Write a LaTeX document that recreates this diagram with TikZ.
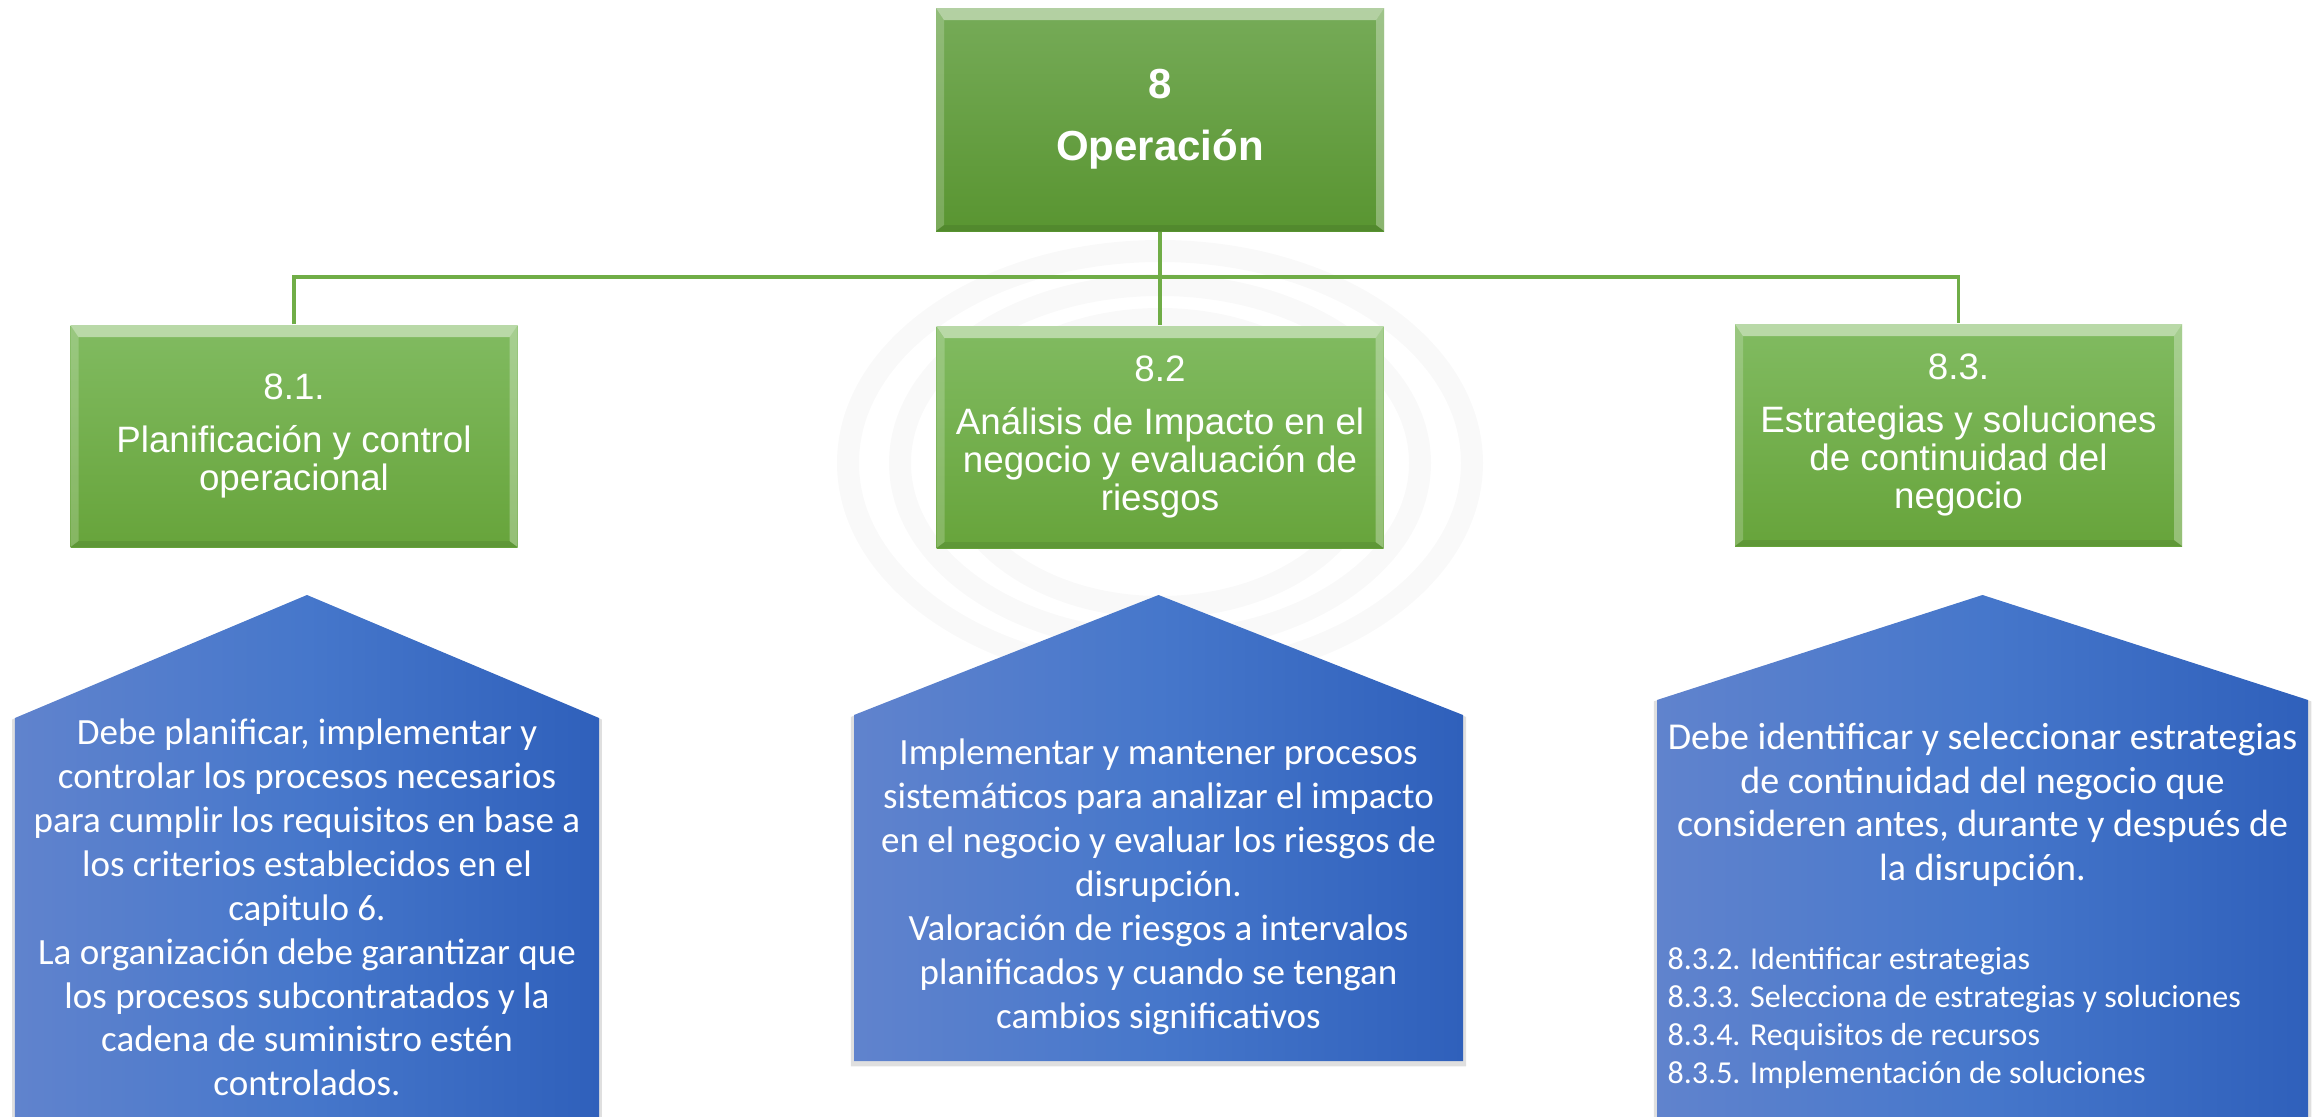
\documentclass[tikz,border=0pt]{standalone}
\usepackage{fontspec}
\setmainfont{Carlito}
\newfontfamily\arialfont{Liberation Sans}
\usepackage{tikz}
\usetikzlibrary{shadows}

\definecolor{linkgreen}{RGB}{112,173,71}
\definecolor{topgreenA}{RGB}{118,171,88}
\definecolor{topgreenB}{RGB}{89,149,49}
\definecolor{subgreenA}{RGB}{129,187,97}
\definecolor{subgreenB}{RGB}{103,164,59}
\definecolor{blueA}{RGB}{96,131,205}
\definecolor{blueB}{RGB}{70,119,203}
\definecolor{blueC}{RGB}{47,96,187}

\begin{document}
\begin{tikzpicture}
	[bevel/.style={path picture={
			\fill[white, opacity=0.45] (path picture bounding box.north west) -- (path picture bounding box.north east)
				-- ([shift={(-0.08,-0.12)}]path picture bounding box.north east) -- ([shift={(0.08,-0.12)}]path picture bounding box.north west) -- cycle;
			\fill[white, opacity=0.2] (path picture bounding box.north west) -- ([shift={(0.08,-0.12)}]path picture bounding box.north west)
				-- ([shift={(0.08,0.06)}]path picture bounding box.south west) -- (path picture bounding box.south west) -- cycle;
			\fill[white, opacity=0.3] (path picture bounding box.north east) -- ([shift={(-0.08,-0.12)}]path picture bounding box.north east)
				-- ([shift={(-0.08,0.06)}]path picture bounding box.south east) -- (path picture bounding box.south east) -- cycle;
			\fill[black, opacity=0.08] (path picture bounding box.south west) -- ([shift={(0.08,0.06)}]path picture bounding box.south west)
				-- ([shift={(-0.08,0.06)}]path picture bounding box.south east) -- (path picture bounding box.south east) -- cycle;
		}},
		top node/.style={rectangle, inner sep=0pt, minimum width=4.48cm, minimum height=2.23cm, top color=topgreenA, bottom color=topgreenB,
			text=white, align=center, font=\arialfont\bfseries\fontsize{11.95pt}{17.6pt}\selectfont, bevel},
		sub node/.style={rectangle, inner sep=0pt, minimum width=4.47cm, minimum height=2.22cm, top color=subgreenA, bottom color=subgreenB,
			text=white, align=center, font=\arialfont\fontsize{10.45pt}{10.8pt}\selectfont, bevel},
		house/.style={left color=blueA, right color=blueC, middle color=blueB,
			drop shadow={shadow xshift=0cm, shadow yshift=-0.03cm, shadow scale=1.01, opacity=0.25}},
		body text/.style={text=white, align=center, inner sep=0pt, font=\fontsize{10.53pt}{12.5pt}\selectfont},
		link/.style={draw=linkgreen, line width=1.1pt}]

	\useasboundingbox (0,0) rectangle (23.23,-11.17);
	\clip (0,0) rectangle (23.23,-11.17);

	% faint rings behind the boxes
	\foreach \rx/\ry in {3.12/2.12, 2.6/1.78, 2.08/1.44}
		\draw[black!2.5, line width=0.22cm] (11.6,-4.63) ellipse [x radius=\rx, y radius=\ry];

	\node[top node] (op)  at (11.6,-1.195) {\rule{0pt}{0.08cm}8\\Operación};
	\node[sub node] (n81) at (2.94,-4.36)  {8.1.\\[0.15cm]Planificación y control\\operacional};
	\node[sub node] (n82) at (11.6,-4.37)  {8.2\\[0.15cm]Análisis de Impacto en el\\negocio y evaluación de\\riesgos};
	\node[sub node] (n83) at (19.585,-4.35) {8.3.\\[0.15cm]Estrategias y soluciones\\de continuidad del\\negocio};

	\coordinate (hub) at (11.6,-2.77);
	\draw[link] (op.south) -- (n82.north);
	\draw[link] (n81.north) |- (hub) -| (n83.north);

	% house shaped panels
	\shade[house] (0.15,-11.4) -- (0.15,-7.18) -- (3.07,-5.95) -- (5.99,-7.18) -- (5.99,-11.4) -- cycle;
	\shade[house] (8.54,-10.61) -- (8.54,-7.15) -- (11.585,-5.95) -- (14.63,-7.15) -- (14.63,-10.61) -- cycle;
	\shade[house] (16.57,-11.4) -- (16.57,-7.0) -- (19.825,-5.95) -- (23.08,-7.0) -- (23.08,-11.4) -- cycle;

	\node[body text, anchor=north] (textA) at (3.07,-7.18) {Debe planificar, implementar y\\controlar los procesos necesarios\\para cumplir los requisitos en base a\\los criterios establecidos en el\\capitulo 6.\\La organización debe garantizar que\\los procesos subcontratados y la\\cadena de suministro estén\\controlados.};
	\node[body text, anchor=north] (textB) at (11.585,-7.38) {Implementar y mantener procesos\\sistemáticos para analizar el impacto\\en el negocio y evaluar los riesgos de\\disrupción.\\Valoración de riesgos a intervalos\\planificados y cuando se tengan\\cambios significativos};
	\node[body text, anchor=north, font=\fontsize{10.81pt}{12.5pt}\selectfont] (textC) at (19.825,-7.22) {Debe identificar y seleccionar estrategias\\de continuidad del negocio que\\consideren antes, durante y después de\\la disrupción.};
	\node[body text, anchor=north west, align=left, font=\fontsize{9.1pt}{10.8pt}\selectfont] (listC) at (16.67,-9.47) {8.3.2. Identificar estrategias\\8.3.3. Selecciona de estrategias y soluciones\\8.3.4. Requisitos de recursos\\8.3.5. Implementación de soluciones};

\end{tikzpicture}
\end{document}
